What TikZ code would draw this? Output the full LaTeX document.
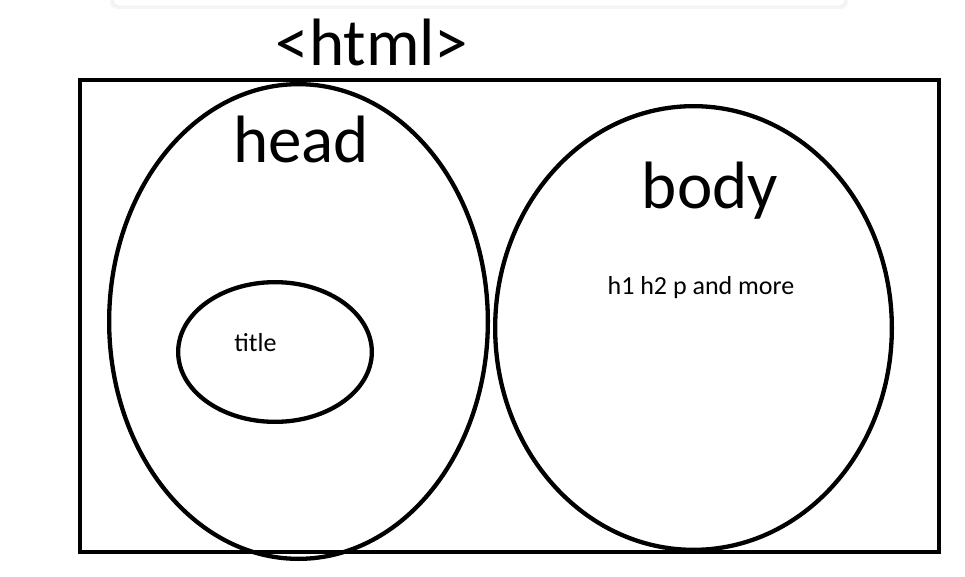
\documentclass[tikz,border=0pt]{standalone}
\usepackage{fontspec}
\setmainfont{Carlito}
\usetikzlibrary{shapes.geometric}

\begin{document}
\begin{tikzpicture}[x=1pt,y=-1pt,
        bubble/.style={draw, ellipse, line width=4.3pt, inner sep=0pt},
        bigtext/.style={font=\fontsize{67}{70}\selectfont, anchor=base, inner sep=0pt},
        smalltext/.style={font=\fontsize{26}{30}\selectfont, anchor=base, inner sep=0pt}]
        \useasboundingbox (0,0) rectangle (965,577);

        % panel edge at the top
        \fill[black!4, rounded corners=7pt] (110,-20) rectangle (848,9);
        \filldraw[fill=white, draw=black!10, rounded corners=6pt] (113,-20) rectangle (845,6);

        \node[bigtext] at (372,66) (html) {<html>};
        \draw[line width=4.3pt] (80,80) rectangle (939,552);

        \node[bubble, minimum width=378.7pt, minimum height=474.7pt] at (298.5,321.5) (head) {};
        \node[bubble, minimum width=396.7pt, minimum height=443.7pt] at (693.5,328) (body) {};
        \node[bubble, minimum width=193.7pt, minimum height=139.7pt] at (275,352) (title) {};

        \node[bigtext] at (301,163) (h) {head};
        \node[bigtext] at (710,208) (b) {body};
        \node[smalltext] at (255.5,351) (t) {title};
        \node[smalltext] at (701,294) (m) {h1 h2 p and more};
    \end{tikzpicture}
\end{document}
